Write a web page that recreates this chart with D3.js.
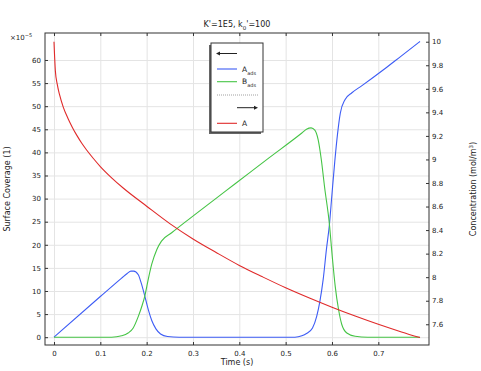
<!DOCTYPE html>
<html>
<head>
<meta charset="utf-8">
<script src="https://cdn.jsdelivr.net/npm/d3@7"></script>
<style>
  body { margin: 0; background: #fff; }
  text { font-family: "DejaVu Sans", sans-serif; fill: #222; }
  .grid line { stroke: #e4e4e4; stroke-width: 1; }
  .grid path { display: none; }
  .axis path { display: none; }
  .axis line { stroke: #333; }
  .axis text { font-size: 7px; fill: #222; }
  .curve { fill: none; stroke-width: 1.1; }
</style>
</head>
<body>
<div id="chart"></div>
<script>
// concentration of A (mol/m^3), right axis
var timeA = [0, 0.003, 0.007, 0.012, 0.02, 0.03, 0.04, 0.05, 0.06, 0.07, 0.085, 0.1, 0.125, 0.15, 0.2, 0.25, 0.3, 0.35, 0.4, 0.45, 0.5, 0.55, 0.6, 0.65, 0.7, 0.75, 0.79];
var concA = [10.0, 9.75, 9.64, 9.55, 9.445, 9.35, 9.27, 9.20, 9.137, 9.082, 9.008, 8.94, 8.842, 8.755, 8.603, 8.455, 8.325, 8.21, 8.10, 8.003, 7.91, 7.825, 7.745, 7.67, 7.60, 7.535, 7.487];

// surface coverage (x1e-5), left axis
var timeAads = [0, 0.1, 0.146, 0.158, 0.166, 0.172, 0.182, 0.188, 0.196, 0.204, 0.211, 0.22, 0.23, 0.245, 0.27, 0.52, 0.535, 0.545, 0.558, 0.567, 0.574, 0.581, 0.588, 0.5945, 0.6, 0.606, 0.612, 0.618, 0.628, 0.643, 0.664, 0.714, 0.75, 0.79];
var covAads  = [0, 8.8, 12.8, 13.8, 14.3, 14.3, 13.5, 11.8, 8.9, 5.8, 3.6, 1.8, 0.7, 0.15, 0, 0, 0.3, 0.8, 2.0, 4.5, 7.8, 12.5, 19.0, 24.4, 31.0, 38.0, 44.0, 48.5, 51.4, 52.9, 54.4, 58.1, 60.9, 64.0];

var timeBads = [0, 0.1245, 0.146, 0.16, 0.171, 0.182, 0.19, 0.196, 0.204, 0.211, 0.222, 0.232, 0.254, 0.283, 0.34, 0.391, 0.4626, 0.535, 0.545, 0.555, 0.563, 0.57, 0.577, 0.584, 0.5945, 0.601, 0.607, 0.614, 0.621, 0.632, 0.65, 0.677, 0.79];
var covBads  = [0, 0, 0.3, 0.9, 2.0, 4.5, 6.8, 8.9, 12.8, 15.8, 19.0, 20.8, 22.6, 24.9, 29.3, 33.2, 38.7, 44.2, 45.0, 45.3, 44.8, 42.8, 38.4, 32.5, 24.4, 17.0, 11.0, 6.1, 2.8, 0.9, 0.2, 0, 0];

var xTicks = [0, 0.1, 0.2, 0.3, 0.4, 0.5, 0.6, 0.7];
var leftTicks = [0, 5, 10, 15, 20, 25, 30, 35, 40, 45, 50, 55, 60];
var rightTicks = [7.6, 7.8, 8, 8.2, 8.4, 8.6, 8.8, 9, 9.2, 9.4, 9.6, 9.8, 10];

var w = 481, h = 371;
var padL = 45, padR = 429, padT = 33, padB = 345;

var xScale = d3.scaleLinear().domain([-0.0194, 0.8094]).range([padL, padR]);
var yLeft = d3.scaleLinear().domain([-1.69, 65.84]).range([padB, padT]);
var yRight = d3.scaleLinear().domain([7.424, 10.074]).range([padB, padT]);

var svg = d3.select("#chart").append("svg")
    .attr("width", w).attr("height", h);

// grid
svg.append("g").attr("class", "grid")
    .attr("transform", "translate(0," + padB + ")")
    .call(d3.axisBottom(xScale).tickValues(xTicks).tickSize(-(padB - padT)).tickFormat(""));
svg.append("g").attr("class", "grid")
    .attr("transform", "translate(" + padL + ",0)")
    .call(d3.axisLeft(yLeft).tickValues(leftTicks).tickSize(-(padR - padL)).tickFormat(""));

// curves
svg.append("clipPath").attr("id", "clip")
    .append("rect").attr("x", padL).attr("y", padT).attr("width", padR - padL).attr("height", padB - padT);

function curve(ts, vs, yScale, color) {
    var line = d3.line()
        .curve(d3.curveMonotoneX)
        .x(function(d) { return xScale(d[0]); })
        .y(function(d) { return yScale(d[1]); });
    svg.append("path")
        .datum(d3.zip(ts, vs))
        .attr("class", "curve")
        .attr("clip-path", "url(#clip)")
        .attr("stroke", color)
        .attr("d", line);
}
curve(timeAads, covAads, yLeft, "#3d5cf5");
curve(timeBads, covBads, yLeft, "#45c445");
curve(timeA, concA, yRight, "#e02a2a");

// axes (ticks pointing inward)
var fmt = function(d) { return d3.format("~g")(d); };
svg.append("g").attr("class", "axis")
    .attr("transform", "translate(0," + padB + ")")
    .call(d3.axisBottom(xScale).tickValues(xTicks).tickSize(-3).tickPadding(6).tickFormat(fmt));
svg.append("g").attr("class", "axis")
    .attr("transform", "translate(0," + padT + ")")
    .call(d3.axisTop(xScale).tickValues(xTicks).tickSize(-3).tickFormat(""));
svg.append("g").attr("class", "axis")
    .attr("transform", "translate(" + padL + ",0)")
    .call(d3.axisLeft(yLeft).tickValues(leftTicks).tickSize(-3).tickPadding(4).tickFormat(fmt));
svg.append("g").attr("class", "axis")
    .attr("transform", "translate(" + padR + ",0)")
    .call(d3.axisRight(yRight).tickValues(rightTicks).tickSize(-3).tickPadding(3).tickFormat(fmt));

svg.append("rect")
    .attr("x", padL).attr("y", padT)
    .attr("width", padR - padL).attr("height", padB - padT)
    .attr("fill", "none").attr("stroke", "#333").attr("stroke-width", 1);

// titles
var title = svg.append("text")
    .attr("x", (padL + padR) / 2).attr("y", 27)
    .attr("text-anchor", "middle").style("font-size", "8px");
title.append("tspan").text("K'=1E5, k");
title.append("tspan").attr("baseline-shift", "sub").style("font-size", "5.5px").text("0");
title.append("tspan").text("'=100");

svg.append("text")
    .attr("x", (padL + padR) / 2).attr("y", 365)
    .attr("text-anchor", "middle").style("font-size", "8px")
    .text("Time (s)");

svg.append("text")
    .attr("transform", "translate(10," + ((padT + padB) / 2) + ") rotate(-90)")
    .attr("text-anchor", "middle").style("font-size", "8px")
    .text("Surface Coverage (1)");

var rt = svg.append("text")
    .attr("transform", "translate(476," + ((padT + padB) / 2) + ") rotate(-90)")
    .attr("text-anchor", "middle").style("font-size", "8px");
rt.append("tspan").text("Concentration (mol/m");
rt.append("tspan").attr("baseline-shift", "super").style("font-size", "5.5px").text("3");
rt.append("tspan").text(")");

var ex = svg.append("text")
    .attr("x", 10).attr("y", 40).style("font-size", "7px");
ex.append("tspan").text("×10");
ex.append("tspan").attr("baseline-shift", "super").style("font-size", "5px").text("−5");

// legend
var lx = 211, ly = 43, lw = 52, lh = 89;
svg.append("rect").attr("x", lx - 2).attr("y", ly + 2).attr("width", lw).attr("height", lh)
    .attr("fill", "#666");
svg.append("rect").attr("x", lx).attr("y", ly).attr("width", lw).attr("height", lh)
    .attr("fill", "#fff").attr("stroke", "#333").attr("stroke-width", 1);

var legendItems = [
    { y: 53.5, type: "arrowLeft" },
    { y: 69, type: "line", color: "#3d5cf5", label: "A", sub: "ads" },
    { y: 81.7, type: "line", color: "#45c445", label: "B", sub: "ads" },
    { y: 95, type: "dots" },
    { y: 107.7, type: "arrowRight" },
    { y: 123.3, type: "line", color: "#e02a2a", label: "A" }
];
legendItems.forEach(function(it) {
    if (it.type === "line") {
        svg.append("line").attr("x1", 217).attr("x2", 237).attr("y1", it.y).attr("y2", it.y)
            .attr("stroke", it.color).attr("stroke-width", 1.1);
        var t = svg.append("text").attr("x", 242).attr("y", it.y + 2.7).style("font-size", "7.5px");
        t.append("tspan").text(it.label);
        if (it.sub) t.append("tspan").attr("baseline-shift", "sub").style("font-size", "5px").text(it.sub);
    } else if (it.type === "dots") {
        svg.append("line").attr("x1", 217).attr("x2", 258).attr("y1", it.y).attr("y2", it.y)
            .attr("stroke", "#888").attr("stroke-width", 0.8).attr("stroke-dasharray", "1,1");
    } else if (it.type === "arrowLeft") {
        svg.append("line").attr("x1", 219).attr("x2", 237).attr("y1", it.y).attr("y2", it.y)
            .attr("stroke", "#222").attr("stroke-width", 1);
        svg.append("path").attr("d", "M216," + it.y + "l4,-2v4z").attr("fill", "#222");
    } else if (it.type === "arrowRight") {
        svg.append("line").attr("x1", 237).attr("x2", 255).attr("y1", it.y).attr("y2", it.y)
            .attr("stroke", "#222").attr("stroke-width", 1);
        svg.append("path").attr("d", "M258," + it.y + "l-4,-2v4z").attr("fill", "#222");
    }
});
</script>
</body>
</html>
